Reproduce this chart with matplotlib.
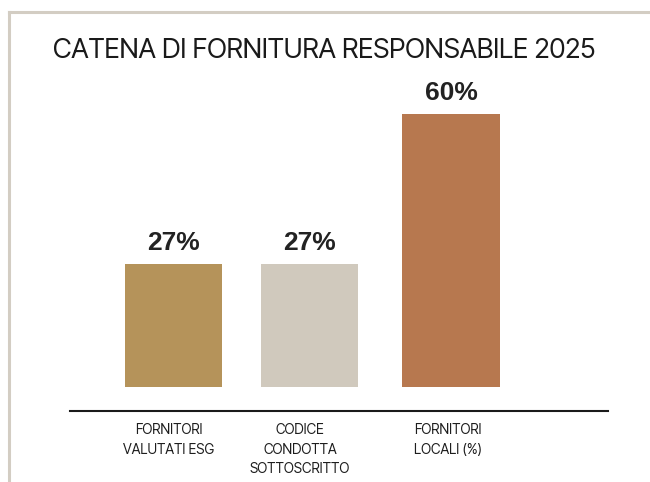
import matplotlib
matplotlib.use('Agg')
import matplotlib.pyplot as plt
from matplotlib.lines import Line2D

# data
categories = ["FORNITORI\nVALUTATI ESG", "CODICE\nCONDOTTA\nSOTTOSCRITTO", "FORNITORI\nLOCALI (%)"]
values = [27, 27, 60]
value_labels = ["27%", "27%", "60%"]
bar_colors = ["#B5935A", "#D0C9BD", "#B7784F"]
title = "CATENA DI FORNITURA RESPONSABILE 2025"

FONT = ["Inter Tight", "DejaVu Sans"]
BOLD = ["Liberation Sans", "DejaVu Sans"]

W, H = 650, 482
fig = plt.figure(figsize=(W / 100, H / 100), dpi=100)
fig.patch.set_facecolor("white")

# frame lines top / left
fig.add_artist(Line2D([9 / W, 1], [1 - 12 / H, 1 - 12 / H], color="#D3CDC3", lw=2.2))
fig.add_artist(Line2D([9 / W, 9 / W], [0, 1 - 12 / H], color="#D3CDC3", lw=2.2))

fig.text(53 / W, 1 - 58.3 / H, title, fontsize=19.5, family=FONT,
         color="#1a1a1a", ha="left", va="baseline")

# axes: x 70..608 px, y 90..411 px
ax = fig.add_axes([70 / W, 1 - 411 / H, 538 / W, 321 / H])
ppu = 4.55
ax.set_ylim(-(411 - 387) / ppu, (387 - 90) / ppu)
ax.set_xlim(-(173.5 - 70) / 136, (608 - 173.5) / 136)
pos = [0, 1, 2.04]
ax.bar(pos, values, width=0.715, color=bar_colors)
for x, v, lab in zip(pos, values, value_labels):
    ax.text(x, v + 14 / ppu, lab, ha="center", va="baseline", fontsize=19, fontweight="bold",
            family=BOLD, color="#222222")

for s in ["top", "right", "left"]:
    ax.spines[s].set_visible(False)
ax.spines["bottom"].set_linewidth(1.5)
ax.spines["bottom"].set_color("#1a1a1a")
ax.set_yticks([])
ax.set_xticks([])

label_x = [-0.033, 0.93, 2.018]
for x, lab in zip(label_x, categories):
    ax.text(x, -(423.5 - 387) / ppu, lab, ha="center", va="top", fontsize=10, linespacing=1.48,
            family=FONT, color="#1e1e1e")

fig.savefig("out.png", dpi=100, facecolor="white")
